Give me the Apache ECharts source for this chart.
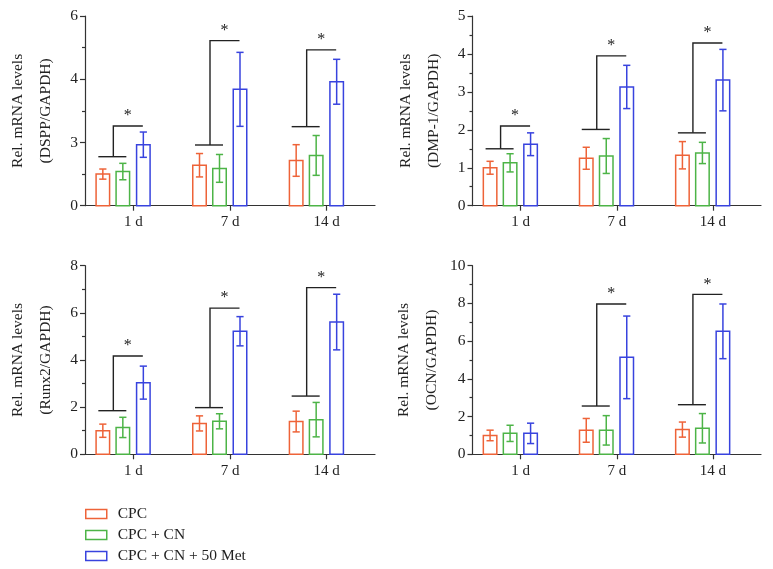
<!DOCTYPE html>
<html>
<head>
<meta charset="utf-8">
<script src="https://cdn.jsdelivr.net/npm/echarts@6/dist/echarts.min.js"></script>
<style>
html,body{margin:0;padding:0;background:#fff;}
#c{width:773px;height:569px;}
</style>
</head>
<body>
<div id="c"></div>
<script>
// ---- data ----
const categories = ['1 d', '7 d', '14 d'];
const seriesNames = ['CPC', 'CPC + CN', 'CPC + CN + 50 Met'];

// Panel 1: DSPP (rows: CPC, CPC + CN, CPC + CN + 50 Met)
const dsppMeans = [[1.00, 1.28, 1.43], [1.08, 1.18, 1.59], [1.93, 3.68, 3.92]];
const dsppErrors = [[0.16, 0.37, 0.50], [0.26, 0.44, 0.63], [0.40, 1.17, 0.71]];
const dsppSigLow = [1.55, 1.92, 2.50];
const dsppSigHigh = [2.52, 5.22, 4.93];
const dsppTicks = ['0', '3', '4', '6'];

// Panel 2: DMP-1
const dmpMeans = [[1.00, 1.25, 1.33], [1.13, 1.31, 1.39], [1.62, 3.13, 3.31]];
const dmpErrors = [[0.17, 0.29, 0.36], [0.24, 0.46, 0.28], [0.30, 0.57, 0.81]];
const dmpSigLow = [1.50, 2.01, 1.92];
const dmpSigHigh = [2.10, 3.95, 4.29];
const dmpTicks = ['0', '1', '2', '3', '4', '5'];

// Panel 3: Runx2
const runxMeans = [[1.00, 1.31, 1.39], [1.14, 1.40, 1.47], [3.04, 5.22, 5.61]];
const runxErrors = [[0.28, 0.32, 0.44], [0.43, 0.32, 0.73], [0.70, 0.62, 1.18]];
const runxSigLow = [1.85, 1.98, 2.47];
const runxSigHigh = [4.17, 6.20, 7.07];
const runxTicks = ['0', '2', '4', '6', '8'];

// Panel 4: OCN
const ocnMeans = [[1.00, 1.27, 1.31], [1.11, 1.27, 1.38], [1.11, 5.14, 6.52]];
const ocnErrors = [[0.28, 0.63, 0.40], [0.43, 0.78, 0.78], [0.54, 2.19, 1.45]];
const ocnSigLow = [null, 2.56, 2.63];
const ocnSigHigh = [null, 7.97, 8.48];
const ocnTicks = ['0', '2', '4', '6', '8', '10'];

// ---- styling / layout ----
const COLORS = ['#EE6338', '#4DB447', '#3843DE'];
const FONT = 'Liberation Serif';
const BAR_W = 13.5;
const OFFSETS = [-30.5, -10.5, 10];

const panels = [
  { means: dsppMeans, errors: dsppErrors, low: dsppSigLow, high: dsppSigHigh, ticks: dsppTicks,
    max: 6, interval: 2, name: 'Rel. mRNA levels\n(DSPP/GAPDH)',
    grid: { left: 85, top: 16, width: 290, height: 189.7 } },
  { means: dmpMeans, errors: dmpErrors, low: dmpSigLow, high: dmpSigHigh, ticks: dmpTicks,
    max: 5, interval: 1, name: 'Rel. mRNA levels\n(DMP-1/GAPDH)',
    grid: { left: 472.5, top: 16, width: 288.5, height: 189.7 } },
  { means: runxMeans, errors: runxErrors, low: runxSigLow, high: runxSigHigh, ticks: runxTicks,
    max: 8, interval: 2, name: 'Rel. mRNA levels\n(Runx2/GAPDH)',
    grid: { left: 85, top: 265.7, width: 290, height: 188.6 } },
  { means: ocnMeans, errors: ocnErrors, low: ocnSigLow, high: ocnSigHigh, ticks: ocnTicks,
    max: 10, interval: 2, name: 'Rel. mRNA levels\n(OCN/GAPDH)',
    grid: { left: 472.5, top: 265.7, width: 288.5, height: 188.6 } }
];

const axisLineStyle = { color: '#333', width: 1.2 };

const grids = [], xAxes = [], yAxes = [], series = [];

panels.forEach((p, pi) => {
  grids.push(p.grid);
  xAxes.push({
    type: 'category', gridIndex: pi, data: categories,
    axisLine: { show: true, lineStyle: axisLineStyle },
    axisTick: { show: true, alignWithLabel: true, length: 5, lineStyle: axisLineStyle },
    axisLabel: { fontFamily: FONT, fontSize: 15, color: '#222', margin: 9 },
    splitLine: { show: false }
  });
  yAxes.push({
    type: 'value', gridIndex: pi, min: 0, max: p.max, interval: p.interval,
    name: p.name, nameLocation: 'middle', nameGap: 25, nameRotate: 90,
    nameTextStyle: { fontFamily: FONT, fontSize: 15.5, color: '#222', lineHeight: 28 },
    axisLine: { show: true, lineStyle: axisLineStyle },
    axisTick: { show: true, length: 5, lineStyle: axisLineStyle },
    minorTick: { show: true, splitNumber: 2, length: 3, lineStyle: axisLineStyle },
    axisLabel: {
      fontFamily: FONT, fontSize: 15.5, color: '#222', margin: 7,
      formatter: (v) => p.ticks[Math.round(v / p.interval)]
    },
    splitLine: { show: false }
  });

  // bars with error bars
  for (let s = 0; s < 3; s++) {
    const data = categories.map((c, ci) => [ci, p.means[s][ci], p.errors[s][ci]]);
    series.push({
      type: 'custom', name: seriesNames[s], xAxisIndex: pi, yAxisIndex: pi,
      itemStyle: { color: COLORS[s] },
      data: data,
      renderItem: (params, api) => {
        const ci = api.value(0), m = api.value(1), e = api.value(2);
        const base = api.coord([ci, 0]);
        const top = api.coord([ci, m]);
        const hi = api.coord([ci, m + e]);
        const lo = api.coord([ci, m - e]);
        const x = base[0] + OFFSETS[s];
        const st = { stroke: COLORS[s], lineWidth: 1.5, fill: null };
        const cap = 3.6;
        return {
          type: 'group',
          children: [
            { type: 'rect', shape: { x: x - BAR_W / 2, y: top[1], width: BAR_W, height: base[1] - top[1] },
              style: { stroke: COLORS[s], lineWidth: 1.5, fill: 'rgba(0,0,0,0)' } },
            { type: 'line', shape: { x1: x, y1: hi[1], x2: x, y2: lo[1] }, style: st },
            { type: 'line', shape: { x1: x - cap, y1: hi[1], x2: x + cap, y2: hi[1] }, style: st },
            { type: 'line', shape: { x1: x - cap, y1: lo[1], x2: x + cap, y2: lo[1] }, style: st }
          ]
        };
      }
    });
  }

  // significance brackets
  const sigData = [];
  categories.forEach((c, ci) => {
    if (p.low[ci] != null) sigData.push([ci, p.low[ci], p.high[ci]]);
  });
  series.push({
    type: 'custom', name: 'sig' + pi, xAxisIndex: pi, yAxisIndex: pi,
    data: sigData, silent: true,
    renderItem: (params, api) => {
      const ci = api.value(0);
      const lo = api.coord([ci, api.value(1)]);
      const hi = api.coord([ci, api.value(2)]);
      const cx = lo[0];
      const st = { stroke: '#222', lineWidth: 1.4, fill: null };
      return {
        type: 'group',
        children: [
          { type: 'line', shape: { x1: cx - 35, y1: lo[1], x2: cx - 7, y2: lo[1] }, style: st },
          { type: 'polyline', shape: { points: [[cx - 20, lo[1]], [cx - 20, hi[1]], [cx + 9.5, hi[1]]] }, style: st },
          { type: 'text', x: cx - 5.5, y: hi[1] - 2,
            style: { text: '*', fontFamily: FONT, fontSize: 16, fill: '#222', align: 'center', verticalAlign: 'bottom' } }
        ]
      };
    }
  });
});

const chart = echarts.init(document.getElementById('c'), null, { renderer: 'canvas' });
chart.setOption({
  backgroundColor: '#fff',
  animation: false,
  grid: grids,
  xAxis: xAxes,
  yAxis: yAxes,
  legend: {
    orient: 'vertical', left: 85, top: 506, padding: 0,
    itemWidth: 21, itemHeight: 9, itemGap: 5,
    selectedMode: false,
    textStyle: { fontFamily: FONT, fontSize: 15.5, color: '#222', lineHeight: 15, padding: [0, 0, 0, 6] },
    data: seriesNames.map((n, i) => ({
      name: n, icon: 'rect',
      itemStyle: { color: 'rgba(0,0,0,0)', borderColor: COLORS[i], borderWidth: 1.5 }
    }))
  },
  series: series
});
</script>
</body>
</html>
